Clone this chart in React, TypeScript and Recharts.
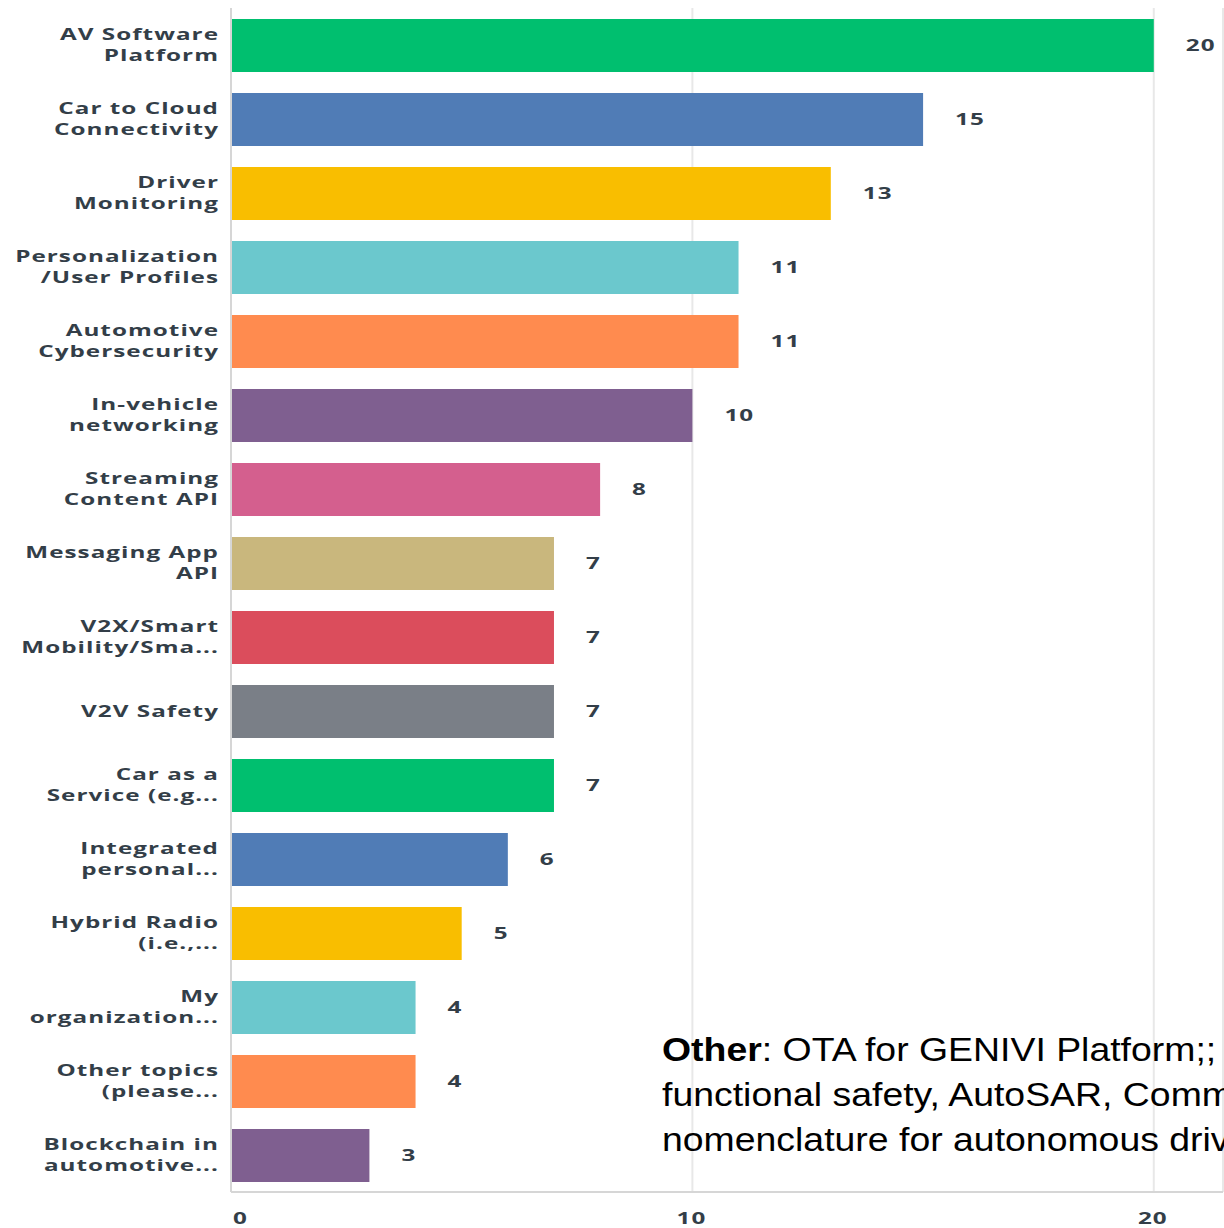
import React from 'react';
import { BarChart, Bar, XAxis, YAxis, CartesianGrid, Cell, LabelList } from 'recharts';

const categories = [
  'AV Software\nPlatform',
  'Car to Cloud\nConnectivity',
  'Driver\nMonitoring',
  'Personalization\n/User Profiles',
  'Automotive\nCybersecurity',
  'In-vehicle\nnetworking',
  'Streaming\nContent API',
  'Messaging App\nAPI',
  'V2X/Smart\nMobility/Sma...',
  'V2V Safety',
  'Car as a\nService (e.g...',
  'Integrated\npersonal...',
  'Hybrid Radio\n(i.e.,...',
  'My\norganization...',
  'Other topics\n(please...',
  'Blockchain in\nautomotive...',
];
const values = [20, 15, 13, 11, 11, 10, 8, 7, 7, 7, 7, 6, 5, 4, 4, 3];
const palette = ['#00BF6F', '#507CB6', '#F9BE00', '#6BC8CD', '#FF8B4F', '#7F5F90', '#D45F8E', '#C9B77D', '#DB4D5C', '#7A7F87'];
const xTicks = [0, 10, 20];

const data = categories.map((c, i) => ({ name: c, value: values[i] }));

const FONT = '"Open Sans", sans-serif';
const TXT = '#333E48';
const SX = 1.47;
const FS = 16.5;
const W = 700;
const LS = 0.7;

const YTick = (props: any) => {
  const { x, y, payload } = props;
  const lines = String(payload.value).split('\n');
  const lh = 21;
  const start = -((lines.length - 1) * lh) / 2;
  return (
    <g transform={`translate(${x - 4},${y}) scale(${SX},1)`}>
      {lines.map((l, i) => (
        <text key={i} x={0} y={start + i * lh} dy="0.35em" textAnchor="end" fontFamily={FONT} fontWeight={W} fontSize={FS} letterSpacing={LS} fill={TXT}>
          {l}
        </text>
      ))}
    </g>
  );
};

const XTick = (props: any) => {
  const { x, y, payload } = props;
  const anchor = payload.value === 0 ? 'start' : 'middle';
  const dx = payload.value === 0 ? 2 : -1;
  return (
    <g transform={`translate(${x + dx},${y + 18}) scale(${SX},1)`}>
      <text x={0} y={0} dy="0.35em" textAnchor={anchor} fontFamily={FONT} fontWeight={W} fontSize={FS} letterSpacing={LS} fill={TXT}>
        {payload.value}
      </text>
    </g>
  );
};

const ValueLabel = (props: any) => {
  const { x, y, width, height, value } = props;
  return (
    <g transform={`translate(${x + width + 32},${y + height / 2}) scale(${SX},1)`}>
      <text x={0} y={0} dy="0.35em" textAnchor="start" fontFamily={FONT} fontWeight={W} fontSize={FS} letterSpacing={LS} fill={TXT}>
        {value}
      </text>
    </g>
  );
};

export default function App() {
  return (
    <div style={{ position: 'absolute', left: 0, top: 0, width: 1224, height: 1228, overflow: 'hidden', background: '#fff' }}>
      <BarChart
        width={1224}
        height={1228}
        data={data}
        layout="vertical"
        margin={{ top: 8, right: 1, bottom: 0, left: 0 }}
        barCategoryGap={21}
      >
        <CartesianGrid horizontal={false} stroke="#e8e8e8" strokeWidth={2} />
        <XAxis
          type="number"
          domain={[0, 21.5]}
          ticks={xTicks}
          allowDataOverflow
          height={36}
          axisLine={{ stroke: '#d6d6d6', strokeWidth: 2 }}
          tickLine={false}
          tick={<XTick />}
        />
        <YAxis
          type="category"
          dataKey="name"
          width={231}
          axisLine={{ stroke: '#d6d6d6', strokeWidth: 2 }}
          tickLine={false}
          tick={<YTick />}
          interval={0}
        />
        <Bar dataKey="value" barSize={53} isAnimationActive={false}>
          {data.map((d, i) => (
            <Cell key={i} fill={palette[i % palette.length]} />
          ))}
          <LabelList dataKey="value" content={<ValueLabel />} />
        </Bar>
      </BarChart>
      <div
        style={{
          position: 'absolute',
          left: 662,
          top: 1027,
          width: 700,
          fontFamily: '"Liberation Sans", Arial, sans-serif',
          fontSize: 34,
          lineHeight: '45px',
          color: '#000',
          whiteSpace: 'nowrap',
          transform: 'scaleX(1.1)',
          transformOrigin: '0 0',
        }}
      >
        <div><b>Other</b>: OTA for GENIVI Platform;;</div>
        <div>functional safety, AutoSAR, Common</div>
        <div>nomenclature for autonomous driving</div>
      </div>
    </div>
  );
}
